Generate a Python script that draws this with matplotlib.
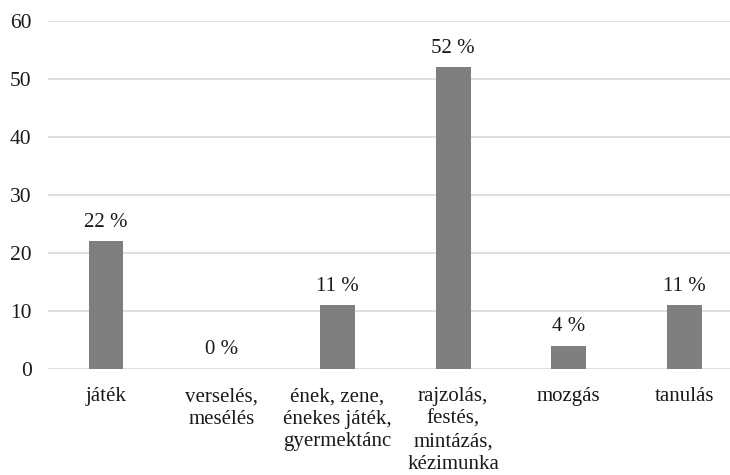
import matplotlib
matplotlib.use("Agg")
import matplotlib.pyplot as plt

categories = ["játék", "verselés,\nmesélés", "ének, zene,\nénekes játék,\ngyermektánc",
              "rajzolás,\nfestés,\nmintázás,\nkézimunka", "mozgás", "tanulás"]
values = [22, 0, 11, 52, 4, 11]
labels = ["22 %", "0 %", "11 %", "52 %", "4 %", "11 %"]
yticks = [0, 10, 20, 30, 40, 50, 60]

plt.rcParams['font.family'] = ['Liberation Serif', 'DejaVu Serif']
fig = plt.figure(figsize=(7.3, 4.75), dpi=100)
ax = fig.add_axes([0.066, 0.223, 0.951, 0.733])
x = list(range(len(categories)))
ax.bar(x, values, width=0.30, color="#7f7f7f", zorder=3)
for xi, v, lab in zip(x, values, labels):
    ax.annotate(lab, (xi, v), xytext=(0, 7), textcoords="offset points",
                ha="center", va="bottom", fontsize=15, color="#1a1a1a")
ax.set_ylim(0, 60)
ax.set_xlim(-0.5, len(categories) - 0.5)
ax.set_yticks(yticks)
ax.set_xticks(x)
ax.set_xticklabels(categories, fontsize=15, linespacing=1.25, color="#1a1a1a")
ax.tick_params(axis="y", labelsize=15.5, length=0, pad=12, colors="#1a1a1a")
ax.tick_params(axis="x", length=0, pad=13)
ax.grid(axis="y", color="#d9d9d9", linewidth=1.2, zorder=0)
for s in ax.spines.values():
    s.set_visible(False)
fig.savefig("out.png", dpi=100)
